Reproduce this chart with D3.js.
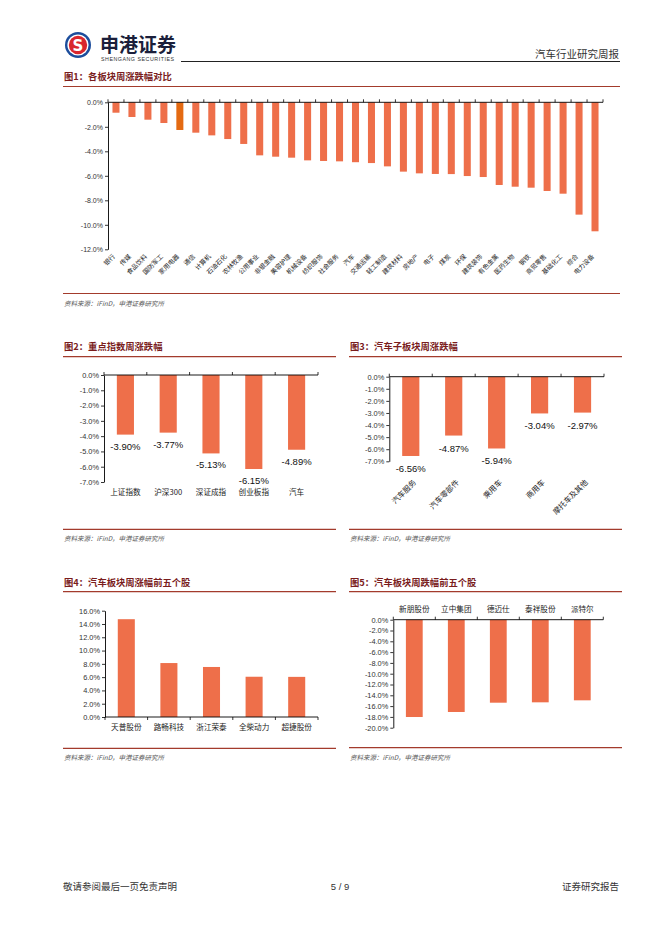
<!DOCTYPE html>
<html>
<head>
<meta charset="utf-8">
<script src="https://cdn.jsdelivr.net/npm/d3@7"></script>
<style>
  body { margin: 0; background: #fff; }
  svg text { font-family: "Noto Sans CJK SC", sans-serif; }
  .num text, text.num { font-family: "Liberation Sans", Arial, sans-serif; }
</style>
</head>
<body>
<svg id="page"></svg>
<script>

// ---- data ----
var sectorNames = ["银行","传媒","食品饮料","国防军工","家用电器","通信","计算机","石油石化","农林牧渔","公用事业",
    "非银金融","美容护理","机械设备","纺织服饰","社会服务","汽车","交通运输","轻工制造","建筑材料","房地产",
    "电子","煤炭","环保","建筑装饰","有色金属","医药生物","钢铁","商贸零售","基础化工","综合","电力设备"];
var sectorValues = [-0.85,-1.20,-1.42,-1.69,-2.26,-2.48,-2.70,-3.00,-3.40,-4.33,
    -4.44,-4.52,-4.74,-4.79,-4.82,-4.89,-4.96,-5.23,-5.66,-5.80,
    -5.85,-5.86,-6.02,-6.10,-6.75,-6.89,-6.97,-7.24,-7.46,-9.17,-10.53];
var sectorHighlight = "家用电器";
var sectorTicks = [0,-2,-4,-6,-8,-10,-12];

var indexNames = ["上证指数","沪深300","深证成指","创业板指","汽车"];
var indexValues = [-3.90,-3.77,-5.13,-6.15,-4.89];
var indexTicks = [0,-1,-2,-3,-4,-5,-6,-7];

var subNames = ["汽车服务","汽车零部件","乘用车","商用车","摩托车及其他"];
var subValues = [-6.56,-4.87,-5.94,-3.04,-2.97];
var subTicks = [0,-1,-2,-3,-4,-5,-6,-7];

var gainNames = ["天普股份","路畅科技","浙江荣泰","全柴动力","超捷股份"];
var gainValues = [14.72,8.12,7.53,6.06,6.04];
var gainTicks = [0,2,4,6,8,10,12,14,16];

var lossNames = ["新朋股份","立中集团","德迈仕","泰祥股份","派特尔"];
var lossValues = [-18.02,-17.09,-15.37,-15.30,-14.93];
var lossTicks = [0,-2,-4,-6,-8,-10,-12,-14,-16,-18,-20];

// ---- style ----
var barColour = "#ee6f4a";
var highColour = "#e46a12";
var redLine = "#a33b2c";
var titleColour = "#7a1d1d";
var pct1 = function(d){ return d.toFixed(1) + "%"; };

var svg = d3.select("#page").attr("width", 662).attr("height", 936);
svg.append("rect").attr("width", 662).attr("height", 936).attr("fill", "#fff");

// ---- header ----
var logo = svg.append("g").attr("transform", "translate(78,45)");
logo.append("circle").attr("r", 13).attr("fill", "#1c4d9c");
logo.append("circle").attr("r", 10.6).attr("fill", "#fff");
logo.append("circle").attr("r", 9.2).attr("fill", "#d9272e");
logo.append("text").attr("text-anchor", "middle").attr("y", 5.5)
    .style("font-family", "DejaVu Sans").style("font-weight", "bold")
    .attr("font-size", 15).attr("fill", "#fff").text("S");

svg.append("text").attr("x", 100).attr("y", 52).attr("font-size", 19).attr("font-weight", "bold")
    .attr("fill", "#1b1f3b").text("申港证券");
svg.append("text").attr("x", 101).attr("y", 60.5).attr("font-size", 5.3)
    .style("font-family", "Liberation Sans").attr("fill", "#333")
    .attr("textLength", 73).text("SHENGANG SECURITIES");
svg.append("line").attr("x1", 181).attr("x2", 620).attr("y1", 61.5).attr("y2", 61.5)
    .attr("stroke", "#222").attr("stroke-width", 1);
svg.append("text").attr("x", 619).attr("y", 58).attr("text-anchor", "end").attr("font-size", 10.5)
    .attr("fill", "#333").text("汽车行业研究周报");

// ---- footer ----
svg.append("text").attr("x", 63).attr("y", 890).attr("font-size", 9.5).attr("fill", "#333").text("敬请参阅最后一页免责声明");
svg.append("text").attr("x", 340).attr("y", 890).attr("text-anchor", "middle").attr("font-size", 9.5)
    .style("font-family", "Liberation Sans").attr("fill", "#333").text("5 / 9");
svg.append("text").attr("x", 619).attr("y", 890).attr("text-anchor", "end").attr("font-size", 9.5).attr("fill", "#333").text("证券研究报告");

// section title + rules + source
function section(x1, x2, titleY, lineY, srcLineY, title){
    svg.append("text").attr("x", x1 + 1).attr("y", titleY).attr("font-size", 9.3).attr("font-weight", "bold")
        .attr("fill", titleColour).text(title);
    svg.append("line").attr("x1", x1).attr("x2", x2).attr("y1", lineY).attr("y2", lineY)
        .attr("stroke", redLine).attr("stroke-width", 1.2);
    svg.append("line").attr("x1", x1).attr("x2", x2).attr("y1", srcLineY).attr("y2", srcLineY)
        .attr("stroke", redLine).attr("stroke-width", 1.2);
    svg.append("text").attr("x", x1 + 1).attr("y", srcLineY + 12).attr("font-size", 6.5)
        .attr("font-style", "italic").attr("fill", "#555").text("资料来源：iFinD，申港证券研究所");
}

section(63, 620, 80, 86.5, 293.5, "图1：各板块周涨跌幅对比");
section(63, 336, 350, 356.7, 529.3, "图2：重点指数周涨跌幅");
section(349, 622, 350, 356.7, 529.3, "图3：汽车子板块周涨跌幅");
section(63, 336, 586, 591.7, 748.3, "图4：汽车板块周涨幅前五个股");
section(349, 622, 586, 591.7, 747.7, "图5：汽车板块周跌幅前五个股");

// draws category boundary ticks along the category axis
function boundaryTicks(g, x, names, y0, dir){
    var step = x.step();
    var bounds = names.map(function(n){ return x(n) - x.paddingOuter() * 0 - (step - x.bandwidth()) / 2; });
    bounds.push(x.range()[1]);
    g.selectAll(".bt").data(bounds).enter().append("line")
        .attr("x1", function(d){ return d; }).attr("x2", function(d){ return d; })
        .attr("y1", y0).attr("y2", y0 + dir * 3)
        .attr("stroke", "#000").attr("stroke-width", 0.8);
    g.append("line").attr("x1", x.range()[0]).attr("x2", x.range()[1]).attr("y1", y0).attr("y2", y0)
        .attr("stroke", "#000").attr("stroke-width", 0.9);
}

function yAxis(g, y, ticks, fs){
    var ax = g.append("g").attr("class", "num")
        .call(d3.axisLeft(y).tickValues(ticks).tickFormat(pct1).tickSize(3).tickSizeOuter(0));
    ax.select(".domain").attr("stroke", "#000").attr("stroke-width", 0.9);
    ax.selectAll(".tick line").attr("stroke", "#000").attr("stroke-width", 0.8);
    ax.selectAll(".tick text").attr("font-size", fs).attr("fill", "#333").attr("x", -5);
}

// ---- chart 1 ----
(function(){
    var left = 108, right = 603, top = 102.3, bottom = 249.3;
    var g = svg.append("g");
    var x = d3.scaleBand().domain(sectorNames).range([left, right]).paddingInner(0.56).paddingOuter(0.28);
    var y = d3.scaleLinear().domain([-12, 0]).range([bottom, top]);

    g.selectAll(".bar").data(sectorNames).enter().append("rect")
        .attr("x", function(d){ return x(d); })
        .attr("width", x.bandwidth())
        .attr("y", y(0))
        .attr("height", function(d, i){ return y(sectorValues[i]) - y(0); })
        .attr("fill", function(d){ return d === sectorHighlight ? highColour : barColour; });

    g.append("g").attr("transform", "translate(" + left + ",0)").call(function(s){ yAxis(s, y, sectorTicks, 7); });
    boundaryTicks(g, x, sectorNames, y(0), -1);

    g.selectAll(".lab").data(sectorNames).enter().append("text")
        .attr("transform", function(d){ return "translate(" + (x(d) + x.bandwidth() / 2 - 2) + "," + (bottom + 6) + ") rotate(-45)"; })
        .attr("text-anchor", "end").attr("dy", "0.35em")
        .attr("font-size", 6.4).attr("fill", "#222").text(function(d){ return d; });
})();

// ---- small bar charts ----
function smallChart(cfg){
    var g = svg.append("g");
    var x = d3.scaleBand().domain(cfg.names).range([cfg.left, cfg.right]).paddingInner(0.6).paddingOuter(0.3);
    var y = d3.scaleLinear().domain(cfg.domain).range([cfg.bottom, cfg.top]);

    g.selectAll(".bar").data(cfg.names).enter().append("rect")
        .attr("x", function(d){ return x(d); })
        .attr("width", x.bandwidth())
        .attr("y", function(d, i){ return Math.min(y(0), y(cfg.values[i])); })
        .attr("height", function(d, i){ return Math.abs(y(cfg.values[i]) - y(0)); })
        .attr("fill", barColour);

    g.append("g").attr("transform", "translate(" + cfg.left + ",0)").call(function(s){ yAxis(s, y, cfg.ticks, 7.4); });
    var neg = cfg.domain[1] === 0;
    boundaryTicks(g, x, cfg.names, y(0), neg ? -1 : 1);

    if (cfg.dataLabels){
        g.selectAll(".dl").data(cfg.names).enter().append("text").attr("class", "num")
            .attr("x", function(d){ return x(d) + x.bandwidth() / 2; })
            .attr("y", function(d, i){ return y(cfg.values[i]) + cfg.labelGap; })
            .attr("text-anchor", "middle").attr("font-size", 9.5).attr("fill", "#111")
            .text(function(d, i){ return cfg.values[i].toFixed(2) + "%"; });
    }

    var labs = g.selectAll(".lab").data(cfg.names).enter().append("text")
        .attr("font-size", 7.6).attr("fill", "#222").text(function(d){ return d; });
    if (cfg.rotate){
        labs.attr("transform", function(d){ return "translate(" + (x(d) + x.bandwidth() / 2 + 4) + "," + (cfg.labelY) + ") rotate(-45)"; })
            .attr("text-anchor", "end").attr("dy", "0.35em");
    } else {
        labs.attr("x", function(d){ return x(d) + x.bandwidth() / 2; }).attr("y", cfg.labelY)
            .attr("text-anchor", "middle").attr("dy", "0.35em");
    }
}

smallChart({names: indexNames, values: indexValues, ticks: indexTicks, domain: [-7, 0],
    left: 104, right: 318, top: 375, bottom: 482, dataLabels: true, labelGap: 15, labelY: 492});
smallChart({names: subNames, values: subValues, ticks: subTicks, domain: [-7, 0],
    left: 389.3, right: 604, top: 376.7, bottom: 461.3, dataLabels: true, labelGap: 16, labelY: 481, rotate: true});
smallChart({names: gainNames, values: gainValues, ticks: gainTicks, domain: [0, 16],
    left: 105, right: 318, top: 610.7, bottom: 717, labelY: 727});
smallChart({names: lossNames, values: lossValues, ticks: lossTicks, domain: [-20, 0],
    left: 393.3, right: 603.3, top: 619.7, bottom: 727.7, labelY: 609});

</script>
</body>
</html>
